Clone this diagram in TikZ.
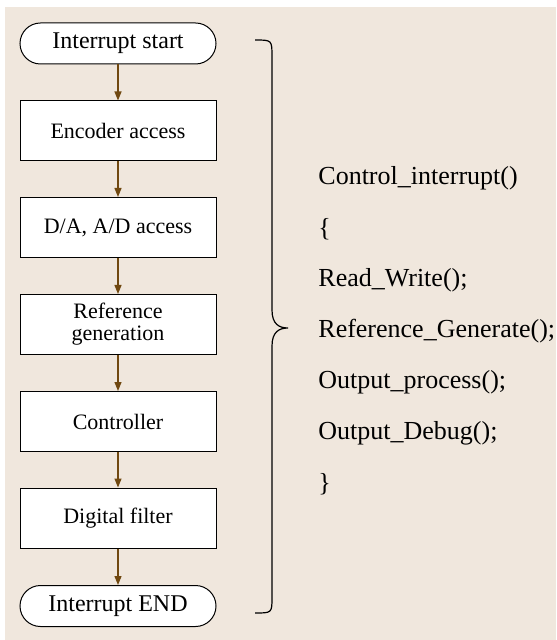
\documentclass[tikz,border=0pt]{standalone}
\usepackage{fontspec}
\setmainfont{Liberation Serif}
\usetikzlibrary{arrows.meta, positioning}
\definecolor{bgbeige}{RGB}{240,231,221}
\definecolor{arrowbrown}{RGB}{112,72,16}

\tikzset{
  termbox/.style={draw=black, fill=white, line width=0.5pt, rounded corners=10.25pt,
    minimum width=98pt, minimum height=20.5pt, inner sep=0pt,
    font=\rmfamily\fontsize{12}{12}\selectfont},
  procbox/.style={draw=black, fill=white, line width=0.5pt,
    minimum width=98pt, minimum height=30pt, inner sep=0pt, align=center,
    font=\rmfamily\fontsize{11}{11}\selectfont},
  flowarrow/.style={draw=arrowbrown, line width=0.6pt, -{Triangle[length=4.5pt, width=3.5pt]}},
  codeline/.style={anchor=west, inner sep=0pt, font=\rmfamily\fontsize{13}{14}\selectfont}
}

\begin{document}
\begin{tikzpicture}[x=0.5pt, y=-0.5pt]
    % --- Canvas and background ---
    \useasboundingbox (0,0) rectangle (556,640);
    \fill[bgbeige] (5,7) rectangle (556,640);

    % --- Flow chart ---
    \node[termbox] (start) at (118, 43.5) {Interrupt start};
    \node[procbox] (encoder) at (118, 131) {Encoder access};
    \node[procbox] (dacc) at (118, 227.5) {D/A, A/D access};
    \node[procbox] (refgen) at (118, 324.5) {Reference\\generation};
    \node[procbox] (ctrl) at (118, 421.5) {Controller};
    \node[procbox] (filter) at (118, 518) {Digital filter};
    \node[termbox] (stop) at (118, 606) {Interrupt END};

    % Arrows between steps
    \draw[flowarrow] (start) -- (encoder);
    \draw[flowarrow] (encoder) -- (dacc);
    \draw[flowarrow] (dacc) -- (refgen);
    \draw[flowarrow] (refgen) -- (ctrl);
    \draw[flowarrow] (ctrl) -- (filter);
    \draw[flowarrow] (filter) -- (stop);

    % --- Brace grouping the steps ---
    \draw[line width=0.6pt] (255, 40) .. controls (272, 40) .. (272, 57)
        -- (272, 310) .. controls (272, 324) and (279, 328) .. (288, 328)
        .. controls (279, 328) and (272, 332) .. (272, 346)
        -- (272, 597) .. controls (272, 613) .. (255, 613);

    % --- Code listing ---
    \node[codeline] (fname) at (318, 178) {Control\_interrupt()};
    \node[codeline] (lbrace) at (318, 229) {\{};
    \node[codeline] (readwrite) at (318, 280) {Read\_Write();};
    \node[codeline] (refcall) at (318, 331) {Reference\_Generate();};
    \node[codeline] (outproc) at (318, 382) {Output\_process();};
    \node[codeline] (outdebug) at (318, 433) {Output\_Debug();};
    \node[codeline] (rbrace) at (318, 484) {\}};
\end{tikzpicture}
\end{document}
